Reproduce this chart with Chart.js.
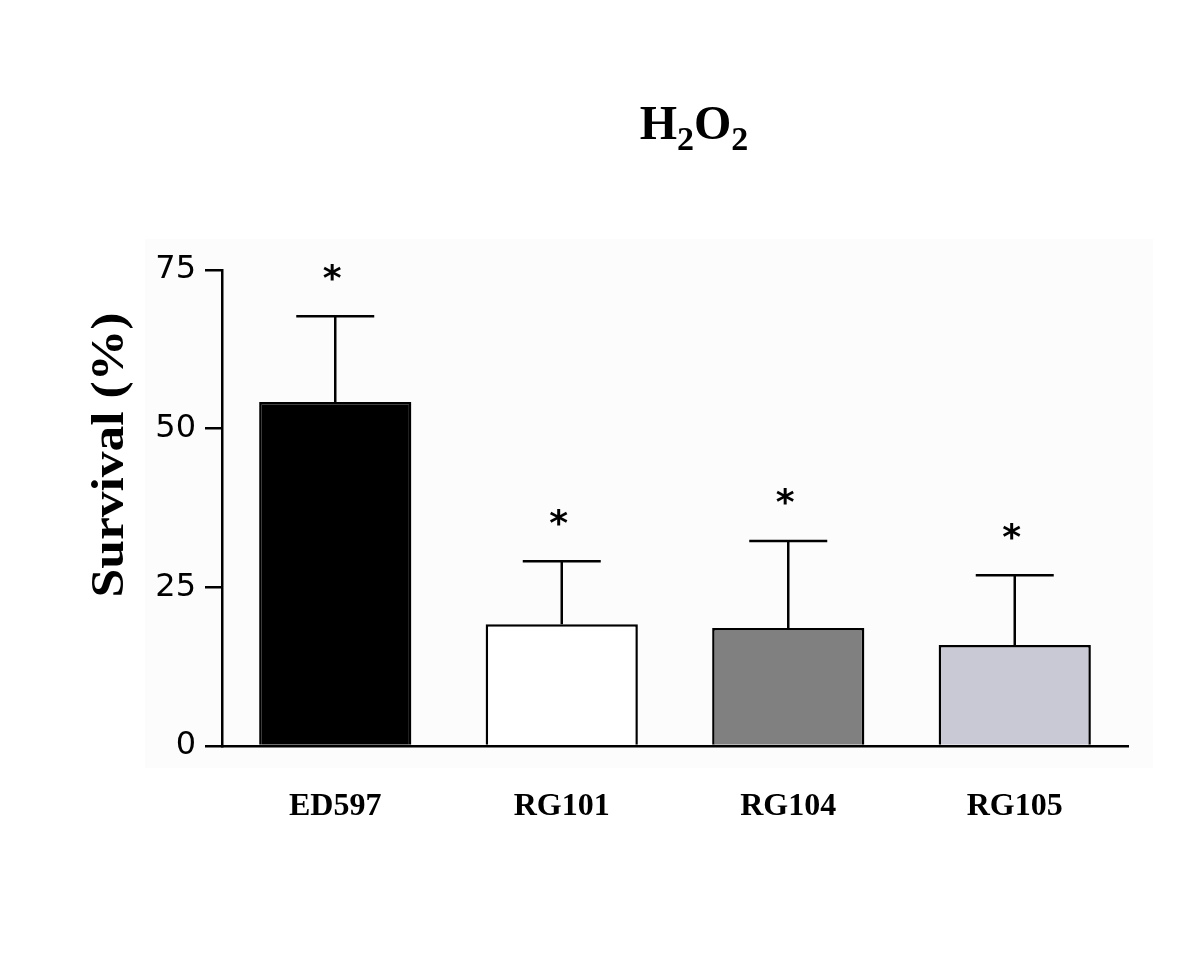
<!DOCTYPE html>
<html>
<head>
<meta charset="utf-8">
<script src="https://cdn.jsdelivr.net/npm/chart.js@4"></script>
<style>
html,body{margin:0;padding:0;background:#fff;}
#wrap{position:relative;width:1200px;height:960px;}
</style>
</head>
<body>
<div id="wrap"><canvas id="c" width="1200" height="960"></canvas></div>
<script>
const categories = ['ED597', 'RG101', 'RG104', 'RG105'];
const survival = [54.2, 19.2, 18.6, 15.9];
const sem = [13.5, 9.9, 13.7, 11.0];
const significance = ['*', '*', '*', '*'];
const yTicks = [0, 25, 50, 75];
const barColors = ['#000000', '#ffffff', '#808080', '#c9c9d5'];
const chartTitle = ['H', '2', 'O', '2'];
const yTitle = 'Survival (%)';

const serif = '"Liberation Serif", "Times New Roman", serif';
const sans = '"DejaVu Sans", "Liberation Sans", Arial, sans-serif';

const decorPlugin = {
  id: 'decor',
  beforeDraw(chart) {
    const ctx = chart.ctx;
    ctx.save();
    ctx.fillStyle = '#fcfcfc';
    ctx.fillRect(145, 239, 1008, 529);
    ctx.restore();
  },
  afterDatasetsDraw(chart) {
    const ctx = chart.ctx;
    const y = chart.scales.y;
    const meta = chart.getDatasetMeta(0);
    ctx.save();
    ctx.strokeStyle = '#000';
    ctx.lineWidth = 2.5;
    ctx.fillStyle = '#000';
    ctx.font = 'bold 36px ' + sans;
    ctx.textAlign = 'center';
    ctx.textBaseline = 'middle';
    meta.data.forEach((bar, i) => {
      const top = y.getPixelForValue(survival[i] + sem[i]);
      const x = bar.x;
      ctx.beginPath();
      ctx.moveTo(x, bar.y);
      ctx.lineTo(x, top);
      ctx.moveTo(x - 39, top);
      ctx.lineTo(x + 39, top);
      ctx.stroke();
      ctx.fillText(significance[i], x - 3, top - 36);
    });
    ctx.restore();
  },
  afterDraw(chart) {
    const ctx = chart.ctx;
    ctx.save();
    ctx.fillStyle = '#000';
    // title with subscripts
    const big = 'bold 48px ' + serif;
    const small = 'bold 34px ' + serif;
    ctx.textBaseline = 'alphabetic';
    ctx.font = big; const wH = ctx.measureText(chartTitle[0]).width;
    const wO = ctx.measureText(chartTitle[2]).width;
    ctx.font = small; const w2 = ctx.measureText(chartTitle[1]).width;
    const total = wH + w2 + wO + w2;
    let x = 694 - total / 2;
    const base = 139;
    ctx.textAlign = 'left';
    ctx.font = big; ctx.fillText(chartTitle[0], x, base); x += wH;
    ctx.font = small; ctx.fillText(chartTitle[1], x, base + 11); x += w2;
    ctx.font = big; ctx.fillText(chartTitle[2], x, base); x += wO;
    ctx.font = small; ctx.fillText(chartTitle[3], x, base + 11);
    // y title
    ctx.translate(111, 455);
    ctx.rotate(-Math.PI / 2);
    ctx.scale(1.12, 1);
    ctx.textAlign = 'center';
    ctx.textBaseline = 'middle';
    ctx.font = 'bold 46px ' + serif;
    ctx.fillText(yTitle, 0, 0);
    ctx.restore();
  }
};

new Chart(document.getElementById('c'), {
  type: 'bar',
  data: {
    labels: categories,
    datasets: [{
      data: survival,
      backgroundColor: barColors,
      borderColor: '#000',
      borderWidth: 2.5,
      borderSkipped: 'bottom',
      barPercentage: 1,
      categoryPercentage: 0.672
    }]
  },
  options: {
    responsive: false,
    animation: false,
    devicePixelRatio: 1,
    layout: { padding: { top: 270, right: 72, left: 0, bottom: 0 } },
    plugins: { legend: { display: false }, tooltip: { enabled: false }, title: { display: false } },
    scales: {
      x: {
        grid: { display: false, drawTicks: false },
        border: { display: true, color: '#000', width: 2.5 },
        ticks: { color: '#000', font: { family: serif, size: 32, weight: 'bold' }, padding: 42 },
        afterFit(s) { s.height = 214; }
      },
      y: {
        min: 0, max: 75,
        afterBuildTicks(s) { s.ticks = yTicks.map(v => ({ value: v })); },
        grid: { drawOnChartArea: false, drawTicks: true, tickLength: 17, color: '#000', lineWidth: 2.5 },
        border: { display: true, color: '#000', width: 2.5 },
        ticks: { color: '#000', font: { family: sans, size: 32 }, padding: 9 },
        afterFit(s) { s.width = 222; }
      }
    }
  },
  plugins: [decorPlugin]
});
</script>
</body>
</html>
